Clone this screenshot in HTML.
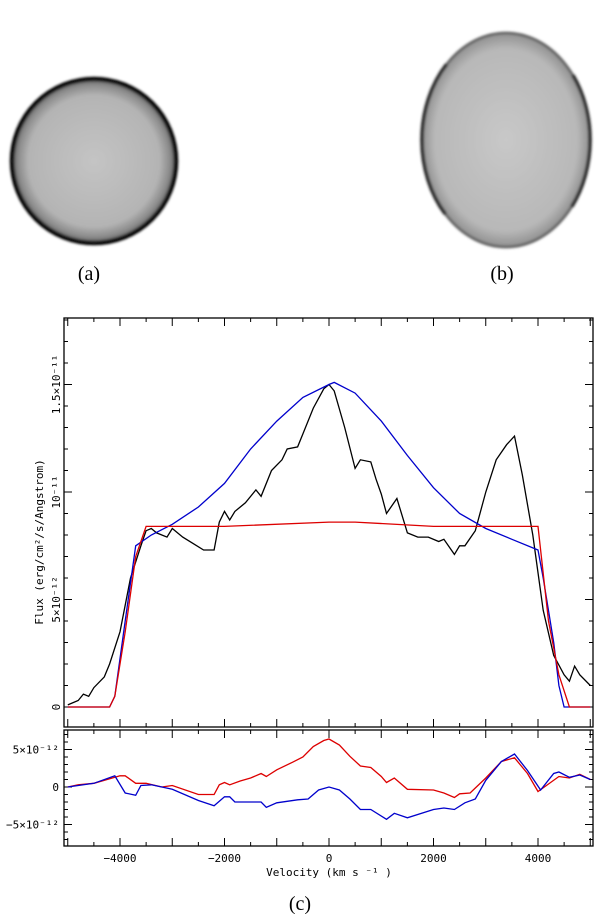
<!DOCTYPE html>
<html><head><meta charset="utf-8"><style>
html,body{margin:0;padding:0;background:#fff;}
svg{display:block;font-family:"Liberation Serif",serif;}
.t{font-family:"DejaVu Sans Mono","Liberation Mono",monospace;font-size:11px;}
</style></head><body>
<svg id="fig" width="600" height="914" viewBox="0 0 600 914">
<defs>
<filter id="bl" x="-20%" y="-20%" width="140%" height="140%"><feGaussianBlur stdDeviation="1.3"/></filter>
<radialGradient id="ga" cx="50%" cy="50%" r="50%">
<stop offset="0" stop-color="#c4c4c4"/><stop offset="0.8" stop-color="#b4b4b4"/><stop offset="0.93" stop-color="#8a8a8a"/><stop offset="1" stop-color="#5a5a5a"/></radialGradient>
<radialGradient id="gb" cx="50%" cy="50%" r="50%">
<stop offset="0" stop-color="#c8c8c8"/><stop offset="0.85" stop-color="#b8b8b8"/><stop offset="1" stop-color="#909090"/></radialGradient>
</defs>
<g filter="url(#bl)">
<circle cx="94" cy="161" r="82" fill="url(#ga)" stroke="#050505" stroke-width="4.5"/>
</g>
<g filter="url(#bl)">
<ellipse cx="506" cy="140" rx="84" ry="107" fill="url(#gb)" stroke="#555" stroke-width="2.5"/>
<ellipse cx="506" cy="140" rx="84" ry="107" fill="none" stroke="#1a1a1a" stroke-width="3.5" stroke-dasharray="70 152 160 152 70 0"/>
</g>
<text x="89" y="280" font-size="20" text-anchor="middle">(a)</text>
<text x="502" y="280" font-size="20" text-anchor="middle">(b)</text>
<text x="300" y="910" font-size="20" text-anchor="middle">(c)</text>
<g id="chart"></g>
</svg>
<script>
const velObs=[-5000,-4800,-4700,-4600,-4500,-4300,-4200,-4000,-3800,-3600,-3500,-3400,-3300,-3100,-3000,-2800,-2600,-2400,-2200,-2100,-2000,-1900,-1800,-1600,-1400,-1300,-1100,-900,-800,-600,-500,-300,-100,0,100,300,500,600,800,900,1000,1100,1300,1500,1700,1900,2100,2200,2400,2500,2600,2800,3000,3200,3400,3550,3700,3900,4100,4300,4500,4600,4700,4800,5000];
const fluxObs=[0.1,0.3,0.6,0.5,0.9,1.4,2.0,3.5,6,7.5,8.2,8.3,8.1,7.9,8.3,7.9,7.6,7.3,7.3,8.6,9.1,8.7,9.1,9.5,10.1,9.8,11.0,11.5,12.0,12.1,12.7,13.9,14.8,15.0,14.7,13.0,11.1,11.5,11.4,10.6,9.9,9.0,9.7,8.1,7.9,7.9,7.7,7.8,7.1,7.5,7.5,8.2,10,11.5,12.2,12.6,10.8,8.0,4.5,2.4,1.5,1.2,1.9,1.5,1.0];
const velBlue=[-5000,-4200,-4100,-3900,-3700,-3400,-3000,-2500,-2000,-1500,-1000,-500,0,100,500,1000,1500,2000,2500,3000,3500,4000,4100,4300,4400,4500,5000];
const fluxBlue=[0,0,0.5,4,7.5,8,8.5,9.3,10.4,12,13.3,14.4,15.0,15.1,14.6,13.3,11.7,10.2,9.0,8.3,7.8,7.3,6,3,1,0,0];
const velRed=[-5000,-4200,-4100,-3900,-3700,-3500,-2000,0,500,2000,4000,4200,4400,4600,5000];
const fluxRed=[0,0,0.5,3.5,7,8.4,8.4,8.6,8.6,8.4,8.4,4,1.5,0,0];
const velResRed=[-5000,-4800,-4500,-4000,-3900,-3700,-3500,-3200,-3000,-2500,-2200,-2100,-2000,-1900,-1700,-1500,-1300,-1200,-1000,-700,-500,-300,-100,0,200,400,600,800,1000,1100,1250,1500,2000,2200,2400,2500,2700,3000,3300,3550,3800,4000,4200,4400,4600,4800,5000];
const resRed=[0,0.3,0.5,1.5,1.5,0.5,0.5,0,0.2,-1.0,-1.0,0.3,0.6,0.3,0.8,1.2,1.8,1.4,2.3,3.3,4.0,5.4,6.2,6.4,5.6,4.1,2.8,2.6,1.4,0.6,1.2,-0.3,-0.4,-0.8,-1.4,-0.9,-0.8,1.2,3.4,3.9,1.8,-0.6,0.4,1.4,1.2,1.7,1.0];
const velResBlue=[-5000,-4500,-4100,-3900,-3700,-3600,-3400,-3000,-2500,-2200,-2000,-1900,-1800,-1300,-1200,-1000,-600,-400,-200,0,200,400,600,800,1100,1250,1500,2000,2200,2400,2600,2800,3000,3300,3550,3800,4050,4300,4400,4600,4800,5000];
const resBlue=[0,0.5,1.5,-0.8,-1.1,0.2,0.3,-0.3,-1.8,-2.5,-1.3,-1.3,-2.0,-2.0,-2.7,-2.1,-1.7,-1.6,-0.4,0,-0.4,-1.6,-3.0,-3.0,-4.3,-3.5,-4.1,-3.0,-2.8,-3.0,-2.1,-1.6,0.9,3.4,4.4,2.2,-0.4,1.8,2.0,1.3,1.6,1.0];
const xTicks=[-4000,-2000,0,2000,4000];

const NS='http://www.w3.org/2000/svg';
const g=document.getElementById('chart');
const L=64,R=593,T1=318,B1=727,T2=730,B2=846;
const X=v=>329+v*0.05225;
const Y1=f=>707-f*21.5;
const Y2=f=>787-f*7.5;
function mk(tag,at,parent){const e=document.createElementNS(NS,tag);for(const k in at)e.setAttribute(k,at[k]);(parent||g).appendChild(e);return e;}
let e;
e=mk('rect',{x:L,y:T1,width:R-L,height:B1-T1,fill:'none',stroke:'#000','stroke-width':1.3});


e=mk('rect',{x:L,y:T2,width:R-L,height:B2-T2,fill:'none',stroke:'#000','stroke-width':1.3});


for(let v=-5000;v<=5000;v+=500){
  const big=v%1000===0, len=big?8:4, x=X(v);
  if(x<L||x>R)continue;
  mk('line',{x1:x,x2:x,y1:T1,y2:T1+len,stroke:'#000'});
  mk('line',{x1:x,x2:x,y1:B1,y2:B1-len,stroke:'#000'});
  mk('line',{x1:x,x2:x,y1:T2,y2:T2+len,stroke:'#000'});
  mk('line',{x1:x,x2:x,y1:B2,y2:B2-len,stroke:'#000'});
}
xTicks.forEach(v=>{e=mk('text',{x:X(v),y:862,'text-anchor':'middle',class:'t'});e.textContent=v===0?'0':String(v).replace('-','\u2212');

});
e=mk('text',{x:329,y:876,'text-anchor':'middle',class:'t'});e.textContent='Velocity (km s \u207B\u00B9 )';


for(let f=0;f<=18;f++){const y=Y1(f),len=f%5===0?8:4;
  mk('line',{x1:L,x2:L+len,y1:y,y2:y,stroke:'#000'});mk('line',{x1:R,x2:R-len,y1:y,y2:y,stroke:'#000'});}
for(let f=-7;f<=7;f++){const y=Y2(f),len=f%5===0?8:4;
  mk('line',{x1:L,x2:L+len,y1:y,y2:y,stroke:'#000'});mk('line',{x1:R,x2:R-len,y1:y,y2:y,stroke:'#000'});}
const topLab=[[0,'0'],[5,'5\u00D710\u207B\u00B9\u00B2'],[10,'10\u207B\u00B9\u00B9'],[15,'1.5\u00D710\u207B\u00B9\u00B9']];
topLab.forEach(([f,s])=>{const y=Y1(f);e=mk('text',{x:0,y:0,'text-anchor':'middle',class:'t',transform:`translate(60,${y}) rotate(-90)`});e.textContent=s;

});
e=mk('text',{x:0,y:0,'text-anchor':'middle',class:'t',transform:'translate(43,542) rotate(-90)'});e.textContent='Flux (erg/cm\u00B2/s/Angstrom)';


[[5,'5\u00D710\u207B\u00B9\u00B2'],[0,'0'],[-5,'\u22125\u00D710\u207B\u00B9\u00B2']].forEach(([f,s])=>{e=mk('text',{x:59,y:Y2(f)+4,'text-anchor':'end',class:'t'});e.textContent=s;

});
function line(vs,fs,Y,col,name){const d=vs.map((v,i)=>(i?'L':'M')+X(v).toFixed(1)+','+Y(fs[i]).toFixed(1)).join('');
  const p=mk('path',{d:d,fill:'none',stroke:col,'stroke-width':1.3});
  
  }
line(velObs,fluxObs,Y1,'#000','observed-line');
line(velBlue,fluxBlue,Y1,'#0000cc','model-blue-line');
line(velRed,fluxRed,Y1,'#dd0000','model-red-line');
line(velResRed,resRed,Y2,'#dd0000','residual-red-line');
line(velResBlue,resBlue,Y2,'#0000cc','residual-blue-line');
</script>
</body></html>
